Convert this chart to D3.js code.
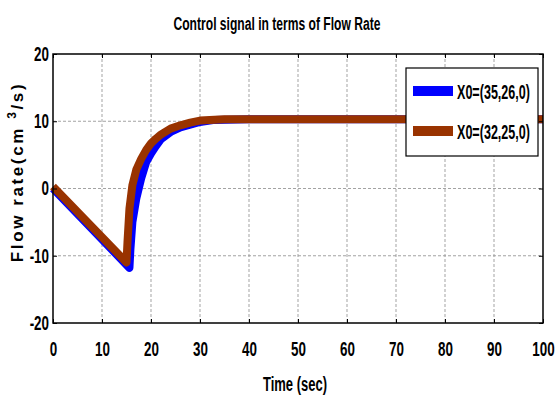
<!DOCTYPE html>
<html>
<head>
<meta charset="utf-8">
<script src="https://cdn.jsdelivr.net/npm/d3@7"></script>
<style>
  body { margin: 0; background: #fff; }
  .narrow { font-family: "Liberation Sans", Arial, sans-serif; font-weight: bold; }
  .grid line { stroke: #999; stroke-dasharray: 3,2; stroke-width: 0.9; }
</style>
</head>
<body>
<svg id="chart" width="555" height="396"></svg>
<script>
// 数据
const seriesNames = ["X0=(35,26,0)", "X0=(32,25,0)"];
const seriesColors = ["#0000ff", "#993300"];
const timeA = [0, 15.6, 15.8, 16.2, 17, 18, 19, 20, 21, 22, 24, 26, 28, 30, 33, 40, 100];
const flowA = [0, -11.8, -9, -5, -1.5, 1.5, 3.9, 5.2, 6.3, 7.3, 8.4, 9.1, 9.5, 9.9, 10.2, 10.3, 10.3];
const timeB = [0, 15, 15.2, 15.6, 16.2, 17, 18, 19, 20, 21, 22, 24, 26, 28, 30, 35, 100];
const flowB = [0.3, -11, -8, -3, 0.5, 2.8, 4.4, 5.7, 6.7, 7.4, 8, 8.9, 9.4, 9.8, 10.1, 10.3, 10.3];
const xTicks = [0, 10, 20, 30, 40, 50, 60, 70, 80, 90, 100];
const yTicks = [-20, -10, 0, 10, 20];

const svg = d3.select("#chart");
const margin = { top: 54, right: 12, bottom: 73, left: 53 };
const width = 555 - margin.left - margin.right;
const height = 396 - margin.top - margin.bottom;

// 把文字压窄，模仿 Arial Narrow
function squeeze(sel, f) {
  sel.each(function () {
    const len = this.getComputedTextLength();
    d3.select(this).attr("textLength", len * f).attr("lengthAdjust", "spacingAndGlyphs");
  });
}
function fitTo(sel, w) {
  sel.attr("textLength", w).attr("lengthAdjust", "spacingAndGlyphs");
}

const g = svg.append("g").attr("transform", `translate(${margin.left},${margin.top})`);

const x = d3.scaleLinear().domain([0, 100]).range([0, width]);
const y = d3.scaleLinear().domain([-20, 20]).range([height, 0]);

// 网格线
g.append("g").attr("class", "grid")
  .selectAll("line").data(xTicks.slice(1, -1)).join("line")
  .attr("x1", (d) => x(d)).attr("x2", (d) => x(d))
  .attr("y1", 0).attr("y2", height);
g.append("g").attr("class", "grid")
  .selectAll("line").data(yTicks.slice(1, -1)).join("line")
  .attr("x1", 0).attr("x2", width)
  .attr("y1", (d) => y(d)).attr("y2", (d) => y(d));

// 曲线
const line = d3.line().x((d) => x(d[0])).y((d) => y(d[1]));
const dataA = timeA.map((t, i) => [t, flowA[i]]);
const dataB = timeB.map((t, i) => [t, flowB[i]]);
[dataA, dataB].forEach((d, i) => {
  g.append("path")
    .attr("d", line(d))
    .attr("fill", "none")
    .attr("stroke", seriesColors[i])
    .attr("stroke-width", 8)
    .attr("stroke-linejoin", "round");
});

// 坐标轴
const xAxis = g.append("g").attr("transform", `translate(0,${height})`)
  .call(d3.axisBottom(x).tickValues(xTicks).tickSizeInner(-4).tickSizeOuter(0).tickPadding(19));
const xAxisTop = g.append("g")
  .call(d3.axisTop(x).tickValues(xTicks).tickSizeInner(-4).tickSizeOuter(0).tickFormat(""));
const yAxis = g.append("g")
  .call(d3.axisLeft(y).tickValues(yTicks).tickSizeInner(-4).tickSizeOuter(0).tickPadding(4)
    .tickFormat((d) => String(d)));
const yAxisRight = g.append("g").attr("transform", `translate(${width},0)`)
  .call(d3.axisRight(y).tickValues(yTicks).tickSizeInner(-4).tickSizeOuter(0).tickFormat(""));
[xAxis, xAxisTop, yAxis, yAxisRight].forEach((a) => {
  a.select(".domain").remove();
  a.selectAll("line").attr("stroke", "#000");
  a.selectAll("text").attr("class", "narrow").attr("font-family", null)
    .attr("font-size", null).style("font-size", "20px").attr("fill", "#000")
    .call(squeeze, 0.67);
});

// 边框
g.append("rect").attr("width", width).attr("height", height)
  .attr("fill", "none").attr("stroke", "#000").attr("stroke-width", 1.5);

// 图例
const legend = g.append("g").attr("transform", `translate(${406 - margin.left},${68 - margin.top})`);
legend.append("rect").attr("width", 132).attr("height", 88)
  .attr("fill", "#fff").attr("stroke", "#000").attr("stroke-width", 1.2);
seriesNames.forEach((name, i) => {
  const ly = 23 + i * 40;
  legend.append("line").attr("x1", 7).attr("x2", 47).attr("y1", ly).attr("y2", ly)
    .attr("stroke", seriesColors[i]).attr("stroke-width", 10);
  legend.append("text").attr("class", "narrow").attr("x", 51).attr("y", ly + 8)
    .style("font-size", "20px").text(name).call(fitTo, 73);
});

// 标题
svg.append("text").attr("class", "narrow")
  .attr("x", 277).attr("y", 30).attr("text-anchor", "middle")
  .style("font-size", "18px").text("Control signal in terms of Flow Rate")
  .call(fitTo, 207);

svg.append("text").attr("class", "narrow")
  .attr("x", 295).attr("y", 391).attr("text-anchor", "middle")
  .style("font-size", "20px").text("Time (sec)")
  .call(fitTo, 64);

const yl = svg.append("text")
  .attr("transform", "translate(23,172) rotate(-90)")
  .attr("text-anchor", "middle")
  .style("font-family", "Liberation Sans, Arial, sans-serif")
  .style("font-weight", "bold").style("font-size", "17px")
  .style("letter-spacing", "2.6px");
yl.append("tspan").text("Flow rate(cm ");
yl.append("tspan").attr("dy", -7).style("font-size", "12px").text("3");
yl.append("tspan").attr("dy", 7).text("/s)");
</script>
</body>
</html>
